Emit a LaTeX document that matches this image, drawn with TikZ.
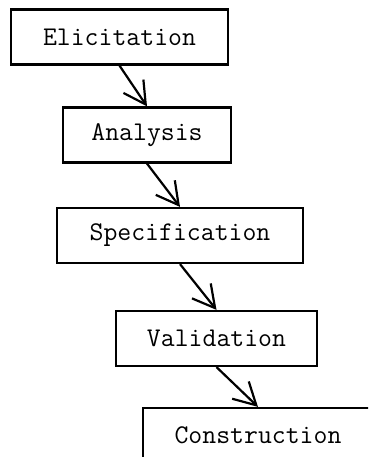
\documentclass[tikz,border=0pt]{standalone}
\usepackage{fontspec}
\usetikzlibrary{arrows.meta}
\tikzset{
  phase/.style={draw=black,line width=2.2pt,fill=white,inner sep=0pt,
                minimum height=55pt,font=\ttfamily\fontsize{27}{32}\selectfont},
  flow/.style={-{Straight Barb[length=22pt,width=24pt,line width=2.2pt]},line width=2.2pt},
}
\begin{document}
\begin{tikzpicture}[x=1pt,y=-1pt]
  \useasboundingbox (0,0) rectangle (368,457);
  \clip (0,0) rectangle (368,457);

  \node[phase,minimum width=217pt] (elic) at (119.5,37) {Elicitation};
  \node[phase,minimum width=168pt] (anal) at (147,135) {Analysis};
  \node[phase,minimum width=246pt] (spec) at (180,235.5) {Specification};
  \node[phase,minimum width=201pt] (vali) at (216.5,338.5) {Validation};
  \node[phase,minimum width=230pt] (cons) at (258,435.5) {Construction};

  \draw[flow] (elic.south) -- (anal.north);
  \draw[flow] (anal.south) -- (spec.north);
  \draw[flow] (spec.south) -- (vali.north);
  \draw[flow] (vali.south) -- (cons.north);
\end{tikzpicture}
\end{document}
